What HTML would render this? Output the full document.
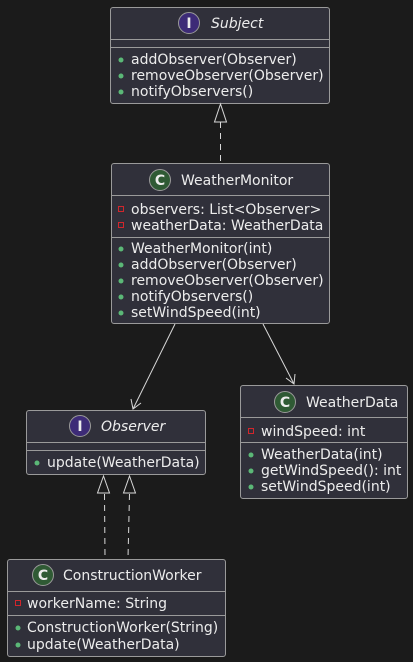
<!DOCTYPE html>
<html><head><meta charset="utf-8"><style>
html,body{margin:0;padding:0;background:#1b1b1b;}
svg{display:block;}
text{font-family:"DejaVu Sans","Liberation Sans",sans-serif;font-size:14px;fill:#ececec;}
.box{fill:#30303a;stroke:#9a9a9a;stroke-width:1;}
.sep{stroke:#9a9a9a;stroke-width:1;}
.ln{stroke:#d8d8d8;stroke-width:1;fill:none;}
.dash{stroke-dasharray:6,5;}
.pub{fill:#5bb877;}
.priv{fill:none;stroke:#d2262c;stroke-width:1;}
</style></head><body>
<svg width="413" height="662" viewBox="0 0 413 662" xmlns="http://www.w3.org/2000/svg">
<!-- Subject -->
<rect class="box" x="110.5" y="7.5" width="219" height="96" rx="2.5"/>
<line class="sep" x1="110.5" y1="39.5" x2="329.5" y2="39.5"/>
<line class="sep" x1="110.5" y1="47.5" x2="329.5" y2="47.5"/>
<circle cx="189" cy="23" r="10.5" fill="#3d2b77" stroke="#9a9a9a"/>
<text x="189" y="28" text-anchor="middle" style="font-weight:bold;font-size:14px">I</text>
<text x="211" y="28" font-style="italic">Subject</text>
<circle class="pub" cx="121" cy="60" r="2.5"/><text x="131" y="64">addObserver(Observer)</text>
<circle class="pub" cx="121" cy="76" r="2.5"/><text x="131" y="80">removeObserver(Observer)</text>
<circle class="pub" cx="121" cy="92" r="2.5"/><text x="131" y="96">notifyObservers()</text>

<!-- WeatherMonitor -->
<rect class="box" x="111.5" y="163.5" width="218" height="160" rx="2.5"/>
<line class="sep" x1="111.5" y1="195.5" x2="329.5" y2="195.5"/>
<line class="sep" x1="111.5" y1="237.5" x2="329.5" y2="237.5"/>
<circle cx="160" cy="180" r="10.5" fill="#2f5a34" stroke="#9a9a9a"/>
<text x="160" y="185" text-anchor="middle" style="font-weight:bold;font-size:14px">C</text>
<text x="181" y="185">WeatherMonitor</text>
<rect class="priv" x="118.5" y="206.5" width="5" height="5"/><text x="131" y="214">observers: List&lt;Observer&gt;</text>
<rect class="priv" x="118.5" y="222.5" width="5" height="5"/><text x="131" y="230">weatherData: WeatherData</text>
<circle class="pub" cx="121" cy="249" r="2.5"/><text x="131" y="253">WeatherMonitor(int)</text>
<circle class="pub" cx="121" cy="265" r="2.5"/><text x="131" y="269">addObserver(Observer)</text>
<circle class="pub" cx="121" cy="281" r="2.5"/><text x="131" y="285">removeObserver(Observer)</text>
<circle class="pub" cx="121" cy="297" r="2.5"/><text x="131" y="301">notifyObservers()</text>
<circle class="pub" cx="121" cy="313" r="2.5"/><text x="131" y="317">setWindSpeed(int)</text>

<!-- Observer -->
<rect class="box" x="26.5" y="410.5" width="179" height="64" rx="2.5"/>
<line class="sep" x1="26.5" y1="442.5" x2="205.5" y2="442.5"/>
<line class="sep" x1="26.5" y1="450.5" x2="205.5" y2="450.5"/>
<circle cx="80" cy="426" r="10.5" fill="#3d2b77" stroke="#9a9a9a"/>
<text x="80" y="431" text-anchor="middle" style="font-weight:bold;font-size:14px">I</text>
<text x="101" y="431" font-style="italic">Observer</text>
<circle class="pub" cx="37" cy="463" r="2.5"/><text x="47" y="467">update(WeatherData)</text>

<!-- WeatherData -->
<rect class="box" x="240.5" y="385.5" width="167" height="113" rx="2.5"/>
<line class="sep" x1="240.5" y1="417.5" x2="407.5" y2="417.5"/>
<line class="sep" x1="240.5" y1="442.5" x2="407.5" y2="442.5"/>
<circle cx="285" cy="402" r="10.5" fill="#2f5a34" stroke="#9a9a9a"/>
<text x="285" y="407" text-anchor="middle" style="font-weight:bold;font-size:14px">C</text>
<text x="306" y="407">WeatherData</text>
<rect class="priv" x="248.5" y="428.5" width="5" height="5"/><text x="261" y="436">windSpeed: int</text>
<circle class="pub" cx="251" cy="455" r="2.5"/><text x="261" y="459">WeatherData(int)</text>
<circle class="pub" cx="251" cy="471" r="2.5"/><text x="261" y="475">getWindSpeed(): int</text>
<circle class="pub" cx="251" cy="487" r="2.5"/><text x="261" y="491">setWindSpeed(int)</text>

<!-- ConstructionWorker -->
<rect class="box" x="7.5" y="559.5" width="218" height="97" rx="2.5"/>
<line class="sep" x1="7.5" y1="591.5" x2="225.5" y2="591.5"/>
<line class="sep" x1="7.5" y1="615.5" x2="225.5" y2="615.5"/>
<circle cx="43" cy="575" r="10.5" fill="#2f5a34" stroke="#9a9a9a"/>
<text x="43" y="580" text-anchor="middle" style="font-weight:bold;font-size:14px">C</text>
<text x="63" y="580">ConstructionWorker</text>
<rect class="priv" x="15.5" y="600.5" width="5" height="5"/><text x="27" y="608">workerName: String</text>
<circle class="pub" cx="18" cy="628" r="2.5"/><text x="27" y="632">ConstructionWorker(String)</text>
<circle class="pub" cx="18" cy="645" r="2.5"/><text x="27" y="649">update(WeatherData)</text>

<!-- Connectors -->
<line class="ln dash" x1="220.5" y1="122" x2="220.5" y2="162"/>
<polygon class="ln" points="220.5,104 214.5,122 226.5,122"/>

<line class="ln" x1="175" y1="324" x2="133" y2="409"/>
<polyline class="ln" points="131,399 133,409 141,403"/>
<line class="ln" x1="263" y1="324" x2="294" y2="384"/>
<polyline class="ln" points="286,378 294,384 295,374"/>

<line class="ln dash" x1="104.5" y1="494" x2="105" y2="558"/>
<polygon class="ln" points="103.5,476 97.5,493 109.5,493"/>
<line class="ln dash" x1="129.5" y1="494" x2="128" y2="558"/>
<polygon class="ln" points="129.5,476 123.5,493 135.5,493"/>
</svg>
</body></html>
